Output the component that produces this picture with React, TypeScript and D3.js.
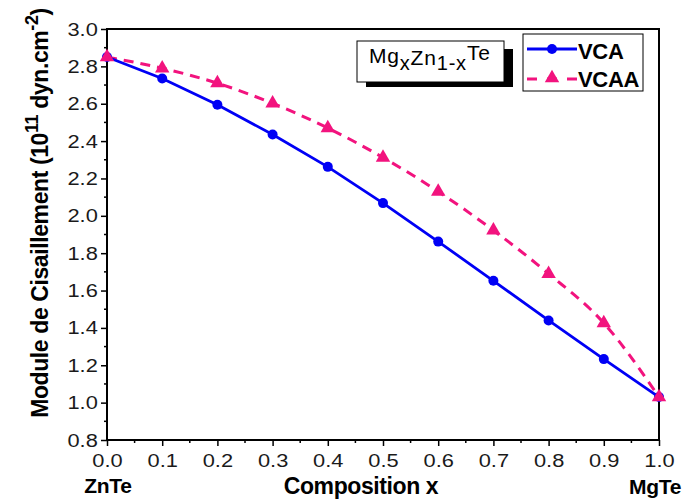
import React, { useEffect, useRef } from "react";
import * as d3 from "d3";

// composition x, shear modulus (10^11 dyn.cm^-2)
const compositions = [0, 0.1, 0.2, 0.3, 0.4, 0.5, 0.6, 0.7, 0.8, 0.9, 1.0];
const vcaValues = [2.85, 2.735, 2.595, 2.435, 2.262, 2.068, 1.862, 1.652, 1.44, 1.233, 1.03];
const vcaaValues = [2.85, 2.79, 2.71, 2.602, 2.47, 2.312, 2.13, 1.922, 1.69, 1.426, 1.03];
const yTicks = [0.8, 1.0, 1.2, 1.4, 1.6, 1.8, 2.0, 2.2, 2.4, 2.6, 2.8, 3.0];
const xTicks = [0, 0.1, 0.2, 0.3, 0.4, 0.5, 0.6, 0.7, 0.8, 0.9, 1.0];

const W = 683, H = 502;

export default function App() {
  const ref = useRef<SVGSVGElement>(null);

  useEffect(() => {
    const svg = d3.select(ref.current);
    svg.selectAll("*").remove();

    const margin = { top: 29, right: 24, bottom: 62, left: 107 };
    const x = d3.scaleLinear().domain([0, 1]).range([margin.left, W - margin.right]);
    const y = d3.scaleLinear().domain([0.8, 3.0]).range([H - margin.bottom, margin.top]);
    const font = "Arial, 'Liberation Sans', sans-serif";

    // frame
    svg.append("rect")
      .attr("x", x(0)).attr("y", y(3.0))
      .attr("width", x(1) - x(0)).attr("height", y(0.8) - y(3.0))
      .attr("fill", "none").attr("stroke", "#000").attr("stroke-width", 2);

    // left axis
    const yAxis = d3.axisLeft(y).tickValues(yTicks).tickSize(6).tickFormat(d3.format(".1f"));
    const gy = svg.append("g").attr("transform", `translate(${x(0)},0)`).call(yAxis);
    gy.select(".domain").remove();
    gy.selectAll("line").attr("stroke-width", 1.5);
    gy.selectAll("text").attr("font-family", font).attr("font-size", 19).attr("fill", "#1a1a1a")
      .attr("x", -8).attr("transform", "scale(1.15,1)");
    const yMinor = d3.range(0.9, 3.0, 0.2);
    svg.append("g").selectAll("line").data(yMinor).join("line")
      .attr("x1", x(0) - 3).attr("x2", x(0)).attr("y1", (d) => y(d)).attr("y2", (d) => y(d))
      .attr("stroke", "#000").attr("stroke-width", 1.5);

    // bottom axis
    const xAxis = d3.axisBottom(x).tickValues(xTicks).tickSize(6).tickFormat(d3.format(".1f"));
    const gx = svg.append("g").attr("transform", `translate(0,${y(0.8)})`).call(xAxis);
    gx.select(".domain").remove();
    gx.selectAll("line").attr("stroke-width", 1.5);
    gx.selectAll("text").attr("font-family", font).attr("font-size", 19).attr("fill", "#1a1a1a")
      .attr("y", 14).attr("transform", "scale(1.15,1)");
    const xMinor = d3.range(0.05, 1.0, 0.1);
    svg.append("g").selectAll("line").data(xMinor).join("line")
      .attr("x1", (d) => x(d)).attr("x2", (d) => x(d)).attr("y1", y(0.8)).attr("y2", y(0.8) + 3)
      .attr("stroke", "#000").attr("stroke-width", 1.5);

    // axis titles
    svg.append("text").attr("x", 361).attr("y", 494).attr("text-anchor", "middle")
      .attr("font-family", font).attr("font-weight", "bold").attr("font-size", 23).attr("letter-spacing", -0.4)
      .text("Composition x");
    svg.append("text").attr("x", 108).attr("y", 493).attr("text-anchor", "middle")
      .attr("font-family", font).attr("font-weight", "bold").attr("font-size", 21).attr("letter-spacing", -0.3)
      .text("ZnTe");
    svg.append("text").attr("x", 655).attr("y", 494).attr("text-anchor", "middle")
      .attr("font-family", font).attr("font-weight", "bold").attr("font-size", 21).attr("letter-spacing", -0.3)
      .text("MgTe");

    const yt = svg.append("text")
      .attr("transform", `translate(48,213) rotate(-90)`)
      .attr("text-anchor", "middle").attr("font-family", font).attr("font-weight", "bold").attr("font-size", 23)
      .attr("letter-spacing", -0.4);
    yt.append("tspan").text("Module de Cisaillement (10");
    yt.append("tspan").attr("dy", -10).attr("font-size", 18).text("11");
    yt.append("tspan").attr("dy", 10).text(" dyn.cm");
    yt.append("tspan").attr("dy", -10).attr("font-size", 18).text("-2");
    yt.append("tspan").attr("dy", 10).text(")");

    // series
    const vca = compositions.map((c, i) => [c, vcaValues[i]] as [number, number]);
    const vcaa = compositions.map((c, i) => [c, vcaaValues[i]] as [number, number]);
    const line = d3.line<[number, number]>().x((d) => x(d[0])).y((d) => y(d[1]));
    const curved = d3.line<[number, number]>().x((d) => x(d[0])).y((d) => y(d[1])).curve(d3.curveMonotoneX);

    const pink = "#f2137e";
    const blue = "#0000f5";

    svg.append("path").attr("d", curved(vcaa)).attr("fill", "none").attr("stroke", pink)
      .attr("stroke-width", 3).attr("stroke-dasharray", "10,7");
    svg.append("path").attr("d", line(vca)).attr("fill", "none").attr("stroke", blue).attr("stroke-width", 2.8);

    svg.append("g").selectAll("circle").data(vca).join("circle")
      .attr("cx", (d) => x(d[0])).attr("cy", (d) => y(d[1])).attr("r", 5).attr("fill", blue);
    const tri = d3.symbol().type(d3.symbolTriangle).size(90);
    svg.append("g").selectAll("path").data(vcaa).join("path")
      .attr("d", tri).attr("transform", (d) => `translate(${x(d[0])},${y(d[1])})`).attr("fill", pink);

    // title box with shadow
    svg.append("rect").attr("x", 366).attr("y", 49).attr("width", 147).attr("height", 38).attr("fill", "#000");
    svg.append("rect").attr("x", 357).attr("y", 41).attr("width", 147).attr("height", 41)
      .attr("fill", "#fff").attr("stroke", "#000").attr("stroke-width", 1);
    const tt = svg.append("text").attr("x", 369).attr("y", 63).attr("font-family", font).attr("font-size", 21)
      .attr("letter-spacing", 0.8);
    tt.append("tspan").text("Mg");
    tt.append("tspan").attr("dy", 7).attr("font-size", 20).text("x");
    tt.append("tspan").attr("dy", -5).text("Zn");
    tt.append("tspan").attr("dy", 5).attr("font-size", 20).text("1-x");
    tt.append("tspan").attr("dy", -10).text("Te");

    // legend
    svg.append("rect").attr("x", 523).attr("y", 34).attr("width", 120).attr("height", 57)
      .attr("fill", "#fff").attr("stroke", "#000").attr("stroke-width", 1);
    svg.append("line").attr("x1", 527).attr("x2", 577).attr("y1", 49).attr("y2", 49)
      .attr("stroke", blue).attr("stroke-width", 2.8);
    svg.append("circle").attr("cx", 552).attr("cy", 49).attr("r", 5).attr("fill", blue);
    svg.append("line").attr("x1", 527).attr("x2", 577).attr("y1", 79).attr("y2", 79)
      .attr("stroke", pink).attr("stroke-width", 3).attr("stroke-dasharray", "10,10");
    svg.append("path").attr("d", tri).attr("transform", "translate(552,78)").attr("fill", pink);
    svg.append("text").attr("x", 578).attr("y", 59).attr("font-family", font).attr("font-weight", "bold")
      .attr("font-size", 22).attr("letter-spacing", -0.3).text("VCA");
    svg.append("text").attr("x", 578).attr("y", 87).attr("font-family", font).attr("font-weight", "bold")
      .attr("font-size", 22).attr("letter-spacing", -0.3).text("VCAA");
  }, []);

  return (
    <svg ref={ref} width={W} height={H}
      style={{ position: "absolute", left: 0, top: 0, background: "#fff" }} />
  );
}
